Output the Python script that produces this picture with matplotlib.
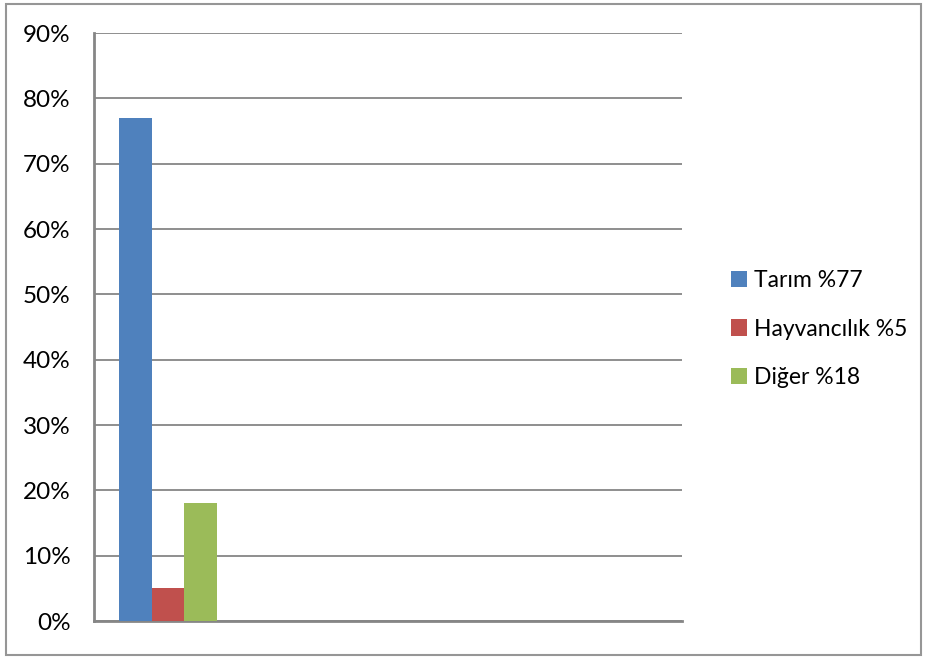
import matplotlib.pyplot as plt
import matplotlib.patches as mpatches
import numpy as np

# data
labels = ['Tarım %77', 'Hayvancılık %5', 'Diğer %18']
values = [77, 5, 18]
colors = ['#4F81BD', '#C0504D', '#9BBB59']
y_ticks = np.arange(0, 100, 10)

plt.rcParams['font.family'] = ['Lato', 'DejaVu Sans']

fig = plt.figure(figsize=(9.25, 6.57), dpi=100)
ax = fig.add_axes([94 / 925, 1 - 621 / 657, 588 / 925, 588 / 657])

width = 0.25
offsets = np.array([-1, 0, 1]) * width
for off, v, c, lab in zip(offsets, values, colors, labels):
  ax.bar(off, v, width=width, color=c, label=lab, zorder=3)

ax.set_xlim(-74 / 130, 514 / 130)
ax.set_ylim(0, 90)
ax.set_yticks(y_ticks)
ax.set_yticklabels([f'{t}%' for t in y_ticks], fontsize=17.5)
ax.set_xticks([])
ax.tick_params(axis='y', length=0, pad=17)
ax.grid(axis='y', color='#868686', lw=1.3, zorder=0)

for s in ['top', 'right']:
  ax.spines[s].set_visible(False)
for s in ['left', 'bottom']:
  ax.spines[s].set_color('#868686')
  ax.spines[s].set_linewidth(2)

ax.legend(loc='center left', bbox_to_anchor=(722 / 925, 1 - 329 / 657),
          bbox_transform=fig.transFigure, frameon=False, fontsize=16.5,
          handlelength=0.7, handleheight=0.7, handletextpad=0.3,
          labelspacing=1.2, borderaxespad=0)

fig.patches.append(mpatches.Rectangle((6 / 925, 1 - 655 / 657), 915 / 925, 651 / 657,
                                      transform=fig.transFigure, fill=False,
                                      edgecolor='#969696', lw=1.5))

plt.savefig('out.png', dpi=100)
